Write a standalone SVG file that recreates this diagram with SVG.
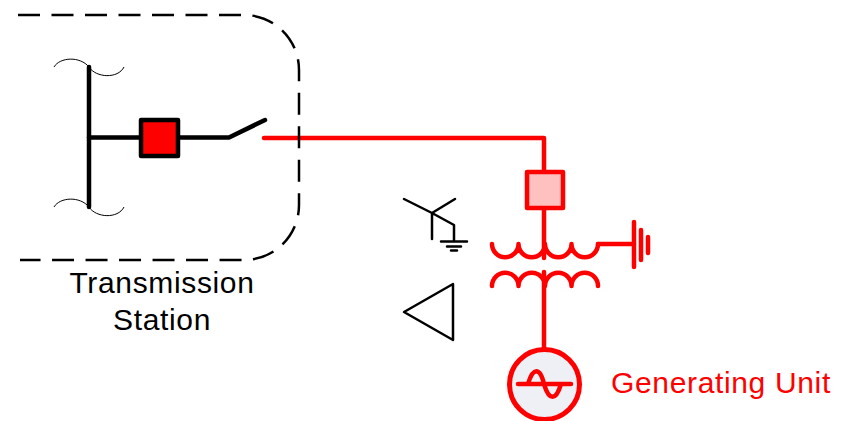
<svg xmlns="http://www.w3.org/2000/svg" width="844" height="421" viewBox="0 0 844 421">
<style>
.k{fill:none;stroke:#000;stroke-width:4.500;stroke-linecap:round;stroke-linejoin:round}
.r{fill:none;stroke:#f00;stroke-width:4.500;stroke-linecap:round;stroke-linejoin:round}
.t{fill:none;stroke:#000;stroke-width:1}
.s{fill:none;stroke:#000;stroke-width:2.500;stroke-linecap:round;stroke-linejoin:round}
text{font-family:"Liberation Sans",Arial,sans-serif;font-size:30px;letter-spacing:.65px}
</style>
<rect width="844" height="421" fill="#fff"/>
<g id="connectors">
<path class="r" d="M264,138H544V172"/>
<path class="r" d="M544,208V258"/>
<path class="r" d="M544,272V350"/>
<path class="r" d="M598,244H634"/>
<path class="k" d="M89,137.500H141"/>
<path class="k" d="M178,137.500H229L265,120"/>
</g>
<g id="station-boundary"><path d="M18,15H245A55,55 0 0 1 299,70V205A55,55 0 0 1 245,260H20" fill="none" stroke="#000" stroke-width="2.500" stroke-dasharray="22 11.500"/></g>
<g id="busbar">
<path class="k" d="M89,67V207"/>
<path class="t" d="M54,67C60,57 80,56 89,67C96,78 118,79 124,67"/>
<path class="t" d="M54,207C60,197 80,196 89,207C96,218 118,219 124,207"/>
</g>
<g id="breaker-black"><rect x="141" y="120" width="37" height="36" fill="#f00" stroke="#000" stroke-width="4.500" stroke-linejoin="round"/></g>
<g id="breaker-red"><rect x="527" y="172" width="36" height="36" fill="#ffc0c0" stroke="#f00" stroke-width="4.500" stroke-linejoin="round"/></g>
<g id="transformer">
<path class="r" d="M492,244A13.250,13.250 0 0 0 518.500,244A13.250,13.250 0 0 0 545,244A13.250,13.250 0 0 0 571.500,244A13.250,13.250 0 0 0 598,244"/>
<path class="r" d="M492,286A13.250,13.250 0 0 1 518.500,286A13.250,13.250 0 0 1 545,286A13.250,13.250 0 0 1 571.500,286A13.250,13.250 0 0 1 598,286"/>
</g>
<g id="ground-red"><path class="r" d="M634,222V267M641,230V260M648,237V253"/></g>
<g id="ground-symbol">
<path class="s" d="M404,199L432,213L454,225V241M455,199L432,213V239"/>
<path class="s" d="M441,241.500H467M447,246.500H461M451,250.500H457"/>
</g>
<g id="delta"><path class="s" d="M404,312L453,284V340Z"/></g>
<g id="generator">
<circle cx="544.500" cy="384.500" r="35" fill="#eef0f6" stroke="#f00" stroke-width="5"/>
<path class="r" d="M518,384H571M528,384C533,367 540,367 544,384C549,401 556,401 561,384"/>
</g>
<g id="labels">
<text x="162" y="293" text-anchor="middle">Transmission</text>
<text x="162" y="330" text-anchor="middle">Station</text>
<text x="611" y="393" fill="#f00">Generating Unit</text>
</g>
</svg>
